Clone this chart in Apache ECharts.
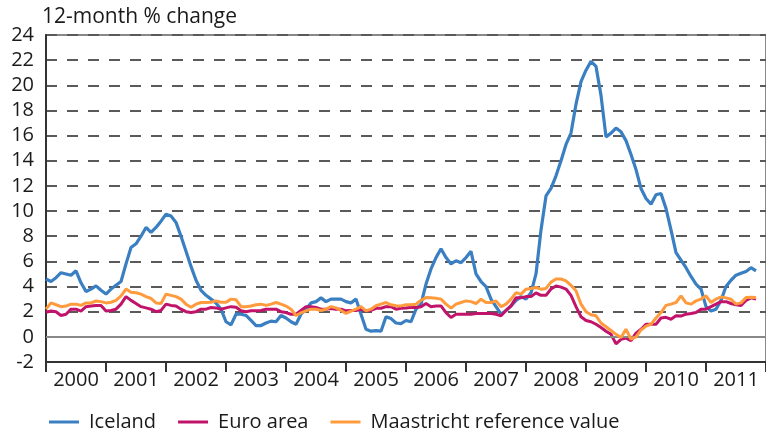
<!DOCTYPE html>
<html>
<head>
<meta charset="utf-8">
<script src="https://cdn.jsdelivr.net/npm/echarts@6/dist/echarts.min.js"></script>
<style>
  html, body { margin: 0; padding: 0; background: #fff; }
  #chart { width: 766px; height: 432px; }
</style>
</head>
<body>
<div id="chart"></div>
<script>
// monthly 12-month % change, Jan 2000 .. Nov 2011
var years = ["2000", "2001", "2002", "2003", "2004", "2005", "2006", "2007", "2008", "2009", "2010", "2011"];

var iceland = [
  4.6, 4.4, 4.7, 5.1, 5.0, 4.9, 5.25, 4.3, 3.6, 3.8, 4.05, 3.7,
  3.4, 3.8, 4.1, 4.4, 5.8, 7.1, 7.4, 8.0, 8.7, 8.3, 8.7, 9.2,
  9.75, 9.6, 9.1, 8.0, 6.8, 5.6, 4.5, 3.7, 3.3, 3.0, 2.7, 2.2,
  1.2, 0.95, 1.8, 1.8, 1.7, 1.3, 0.9, 0.9, 1.1, 1.25, 1.2, 1.7,
  1.5, 1.2, 1.0, 1.8, 2.2, 2.7, 2.8, 3.1, 2.8, 3.0, 3.0, 3.0,
  2.8, 2.7, 3.0, 1.8, 0.6, 0.45, 0.5, 0.45, 1.6, 1.45, 1.1, 1.05,
  1.3, 1.2, 2.2, 2.6, 4.2, 5.4, 6.3, 7.0, 6.3, 5.8, 6.05, 5.9,
  6.3, 6.8, 5.0, 4.4, 4.0, 3.0, 2.4, 1.8, 2.1, 2.45, 2.9, 3.2,
  3.0, 3.5, 5.0, 8.5, 11.2, 11.8, 12.8, 14.0, 15.3, 16.2, 18.5, 20.3,
  21.2, 21.9, 21.5, 19.2, 15.9, 16.2, 16.6, 16.3, 15.6, 14.5, 13.3, 11.8,
  11.0, 10.55, 11.3, 11.4, 10.2, 8.5, 6.7, 6.1, 5.5, 4.8, 4.2, 3.8,
  2.4, 2.05, 2.2, 2.9, 4.0, 4.5, 4.9, 5.05, 5.2, 5.5, 5.25
];

var euroArea = [
  1.95, 2.05, 2.0, 1.7, 1.8, 2.2, 2.2, 2.05, 2.4, 2.45, 2.5, 2.5,
  2.05, 2.1, 2.2, 2.6, 3.2, 2.9, 2.65, 2.4, 2.3, 2.2, 2.0, 2.1,
  2.6, 2.5, 2.45, 2.2, 2.0, 1.93, 2.0, 2.2, 2.2, 2.33, 2.3, 2.2,
  2.3, 2.4, 2.35, 2.07, 2.0, 2.07, 2.07, 2.1, 2.2, 2.2, 2.2, 2.0,
  1.93, 1.8, 1.8, 2.1, 2.4, 2.4, 2.33, 2.2, 2.2, 2.25, 2.2, 2.2,
  2.07, 2.1, 2.1, 2.2, 2.07, 2.1, 2.27, 2.27, 2.4, 2.4, 2.2, 2.28,
  2.3, 2.35, 2.33, 2.4, 2.65, 2.4, 2.45, 2.46, 1.93, 1.54, 1.8, 1.8,
  1.8, 1.8, 1.86, 1.86, 1.86, 1.86, 1.8, 1.67, 2.1, 2.46, 3.1, 3.1,
  3.2, 3.2, 3.5, 3.3, 3.3, 3.8, 4.05, 3.95, 3.8, 3.3, 2.4, 1.6,
  1.3, 1.2, 1.0, 0.74, 0.45, 0.2, -0.55, -0.2, -0.1, -0.3, 0.3, 0.6,
  1.0, 1.0, 1.0, 1.5, 1.55, 1.4, 1.67, 1.65, 1.8, 1.85, 1.93, 2.2,
  2.2, 2.4, 2.6, 2.8, 2.8, 2.65, 2.55, 2.5, 2.9, 3.1, 3.0
];

var maastricht = [
  2.2, 2.7, 2.55, 2.4, 2.45, 2.6, 2.6, 2.5, 2.7, 2.7, 2.85, 2.8,
  2.7, 2.75, 2.9, 3.25, 3.8, 3.55, 3.5, 3.4, 3.2, 3.05, 2.7, 2.65,
  3.4, 3.3, 3.2, 3.0, 2.6, 2.35, 2.6, 2.73, 2.73, 2.75, 2.86, 2.75,
  2.75, 3.0, 2.95, 2.4, 2.4, 2.45, 2.55, 2.6, 2.5, 2.6, 2.73, 2.6,
  2.45, 2.2, 1.7, 1.9, 2.07, 2.2, 2.2, 2.1, 2.2, 2.4, 2.3, 2.1,
  1.86, 2.05, 2.2, 2.4, 2.07, 2.2, 2.47, 2.6, 2.73, 2.55, 2.47, 2.46,
  2.55, 2.55, 2.6, 2.91, 3.12, 3.1, 3.07, 3.0, 2.6, 2.28, 2.6, 2.73,
  2.86, 2.8, 2.65, 2.99, 2.73, 2.73, 2.86, 2.4, 2.6, 3.0, 3.52, 3.4,
  3.79, 3.85, 3.92, 3.79, 3.85, 4.35, 4.6, 4.6, 4.45, 4.1, 3.66, 2.6,
  2.0, 1.75, 1.67, 1.1, 0.8, 0.5, 0.2, -0.05, 0.61, -0.19, 0.0, 0.55,
  0.85, 1.0, 1.5, 1.93, 2.5, 2.6, 2.73, 3.26, 2.7, 2.6, 2.86, 3.0,
  3.26, 2.73, 3.0, 3.18, 3.1, 2.99, 2.6, 2.7, 3.12, 3.15, 3.12
];

function toPoints(arr) {
  return arr.map(function (v, i) { return [i, v]; });
}

var font = "'Open Sans', sans-serif";
var textColor = "#1a1a1a";

var myChart = echarts.init(document.getElementById("chart"));
var option = {
  animation: false,
  textStyle: { fontFamily: font },
  title: {
    text: "12-month % change",
    left: 42,
    top: 7,
    padding: 0,
    textStyle: { fontSize: 21, fontWeight: "normal", color: textColor, fontFamily: font }
  },
  legend: {
    data: ["Iceland", "Euro area", "Maastricht reference value"],
    left: 44,
    top: 407,
    icon: "rect",
    itemWidth: 30,
    itemHeight: 3,
    itemGap: 22,
    textStyle: { fontSize: 20, color: textColor, fontFamily: font, padding: [0, 0, 0, 5] }
  },
  grid: {
    left: 46,
    right: -8,
    top: 35,
    bottom: 70,
    show: true,
    borderColor: "#888",
    borderWidth: 2
  },
  xAxis: [
    {
      type: "value",
      min: 0,
      max: 144,
      interval: 12,
      position: "bottom",
      axisLine: { show: true, onZero: false, lineStyle: { color: "#333", width: 2 } },
      axisTick: { show: true, length: 10, lineStyle: { color: "#333", width: 2 } },
      axisLabel: { show: false },
      splitLine: { show: false }
    },
    {
      type: "category",
      data: years,
      position: "bottom",
      boundaryGap: true,
      axisLine: { show: false, onZero: false },
      axisTick: { show: false },
      axisLabel: { fontSize: 20, color: textColor, margin: 8, fontFamily: font },
      splitLine: { show: false }
    }
  ],
  yAxis: {
    type: "value",
    min: -2,
    max: 24,
    interval: 2,
    axisLine: { show: true, onZero: false, lineStyle: { color: "#333", width: 2 } },
    axisTick: { show: false },
    axisLabel: { fontSize: 20, color: textColor, margin: 12, fontFamily: font },
    splitLine: { show: true, lineStyle: { type: [11, 10], color: "#5a5a5a", width: 2 } }
  },
  series: [
    {
      name: "Iceland",
      type: "line",
      xAxisIndex: 0,
      data: toPoints(iceland),
      showSymbol: false,
      color: "#3a7fc1",
      lineStyle: { width: 3.2 },
      z: 3,
      markLine: {
        silent: true,
        symbol: "none",
        label: { show: false },
        lineStyle: { type: "solid", color: "#888", width: 2 },
        data: [{ yAxis: 0 }]
      }
    },
    {
      name: "Euro area",
      type: "line",
      xAxisIndex: 0,
      data: toPoints(euroArea),
      showSymbol: false,
      color: "#c2136b",
      lineStyle: { width: 3 },
      z: 4
    },
    {
      name: "Maastricht reference value",
      type: "line",
      xAxisIndex: 0,
      data: toPoints(maastricht),
      showSymbol: false,
      color: "#ff9a3d",
      lineStyle: { width: 3 },
      z: 5
    }
  ]
};
myChart.setOption(option);
</script>
</body>
</html>
